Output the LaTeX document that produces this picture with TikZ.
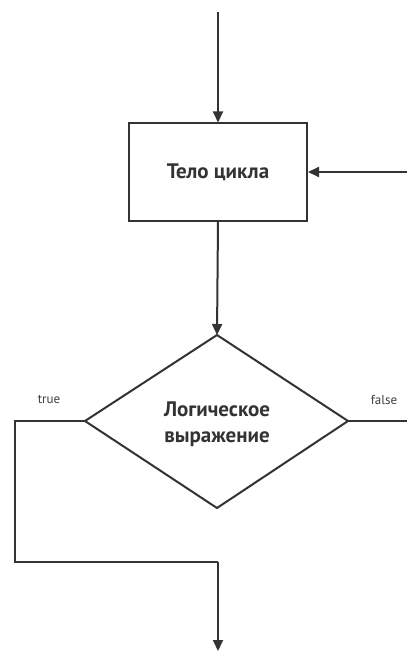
\documentclass[tikz,border=0pt]{standalone}
\usepackage{fontspec}
\setmainfont{PT Sans}
\usetikzlibrary{arrows.meta,shapes.geometric}
\begin{document}
\begin{tikzpicture}[x=1pt,y=-1pt,
  line/.style={draw=black!80,line width=2pt},
  arr/.style={line,-{Triangle[length=11pt,width=10pt]}},
  lbl/.style={font=\fontsize{13}{15}\selectfont,text=black!75},
  txt/.style={font=\fontsize{21}{24}\selectfont\bfseries,text=black!80,align=center}]
\useasboundingbox[fill=white] (0,0) rectangle (407,652);
\node[line,minimum width=178pt,minimum height=97pt,inner sep=0pt] (body) at (218,172) {};
\node[txt] (bodyt) at (218,172) {Тело цикла};
\coordinate (d) at (217,421);
\coordinate (dt) at (217,335);
\coordinate (dl) at (85,421);
\coordinate (dr) at (348,421);
\coordinate (db) at (217,508);
\draw[line,line join=miter] (dt) -- (dr) -- (db) -- (dl) -- cycle;
\node[txt] (cond) at (217,424) {Логическое\\[2pt]выражение};
\coordinate (start) at (218,12);
\coordinate (inr) at (407,172);
\coordinate (outr) at (407,421);
\coordinate (c1) at (15,421);
\coordinate (c2) at (15,562);
\coordinate (c3) at (218,562);
\coordinate (endp) at (218,651);
\draw[arr] (start) -- (body.north);
\draw[arr] (inr) -- (body.east);
\draw[arr] (body.south) -- (dt);
\draw[line] (dr) -- (outr);
\draw[line,line join=miter] (dl) -- (c1) -- (c2) -- (c3);
\draw[arr] (c3) -- (endp);
\node[lbl] (tl) at (49,400) {true};
\node[lbl] (fl) at (384,400) {false};
\end{tikzpicture}
\end{document}
